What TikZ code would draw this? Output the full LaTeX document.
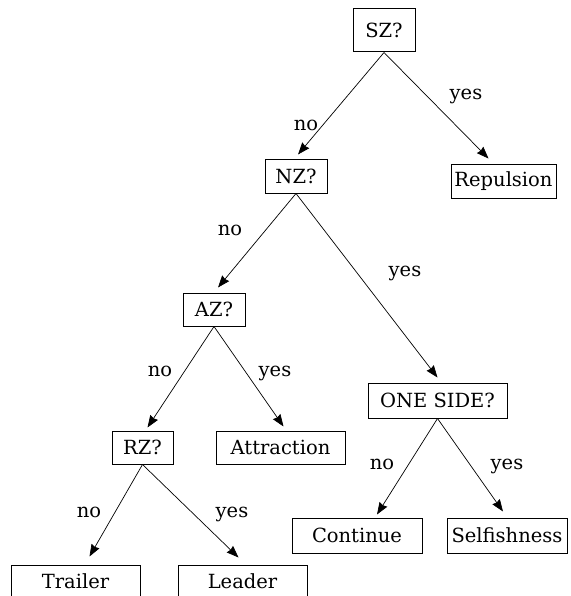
\documentclass[tikz,border=0pt]{standalone}
\usepackage{fontspec}
\setmainfont{DejaVu Serif}
\usetikzlibrary{arrows.meta}

\tikzset{
  box/.style={draw, line width=1pt, minimum height=33pt, inner sep=0pt},
  arr/.style={-{Stealth[length=12pt,width=9pt,inset=1pt]}, line width=0.7pt},
  lbl/.style={inner sep=0pt}
}

\begin{document}
\begin{tikzpicture}[x=1pt,y=-1pt,font=\fontsize{19.5}{22}\selectfont]
\useasboundingbox (0,0) rectangle (570,596);

% Questions
\node[box, minimum width=62pt, minimum height=43pt] (sz) at (384,30.5) {SZ?};
\node[box, minimum width=62pt] (nz) at (296,176.5) {NZ?};
\node[box, minimum width=62pt] (az) at (214,309.5) {AZ?};
\node[box, minimum width=61pt] (rz) at (142.5,447.5) {RZ?};
\node[box, minimum width=139pt, minimum height=35pt] (one) at (437.5,400.5) {ONE SIDE?};

% Behaviours
\node[box, minimum width=105pt, minimum height=34pt] (rep) at (503.5,181) {Repulsion};
\node[box, minimum width=129pt] (attr) at (280.5,447.5) {Attraction};
\node[box, minimum width=129pt] (trail) at (75.5,581.5) {Trailer};
\node[box, minimum width=129pt] (lead) at (242.5,581.5) {Leader};
\node[box, minimum width=130pt, minimum height=35pt] (cont) at (357,535.5) {Continue};
\node[box, minimum width=120pt, minimum height=35pt] (self) at (507,535.5) {Selfishness};

% Branches
\draw[arr] (sz.south) -- ([xshift=2pt,yshift=5pt]nz.north);
\draw[arr] (sz.south) -- ([xshift=-15pt,yshift=5pt]rep.north);
\draw[arr] (nz.south) -- ([xshift=4pt,yshift=5pt]az.north);
\draw[arr] (nz.south) -- ([yshift=5pt]one.north);
\draw[arr] (az.south) -- ([xshift=5pt,yshift=3pt]rz.north);
\draw[arr] (az.south) -- ([xshift=3pt,yshift=4pt]attr.north);
\draw[arr] (rz.south) -- ([xshift=14pt,yshift=8pt]trail.north);
\draw[arr] (rz.south) -- ([xshift=-4pt,yshift=7pt]lead.north);
\draw[arr] (one.south) -- ([xshift=20pt,yshift=3pt]cont.north);
\draw[arr] (one.south) -- ([xshift=-4pt,yshift=6pt]self.north);

% Answers
\foreach \n/\x/\y/\txt in {a1/306/125/no, a2/466/96/yes, a3/230/230/no, a4/405/273/yes,
                           a5/160/371/no, a6/275/373/yes, a7/89/512/no, a8/232/514/yes,
                           a9/382/464/no, a10/507/466/yes}{
    \node[lbl] (\n) at (\x,\y) {\txt};
}

\end{tikzpicture}
\end{document}
